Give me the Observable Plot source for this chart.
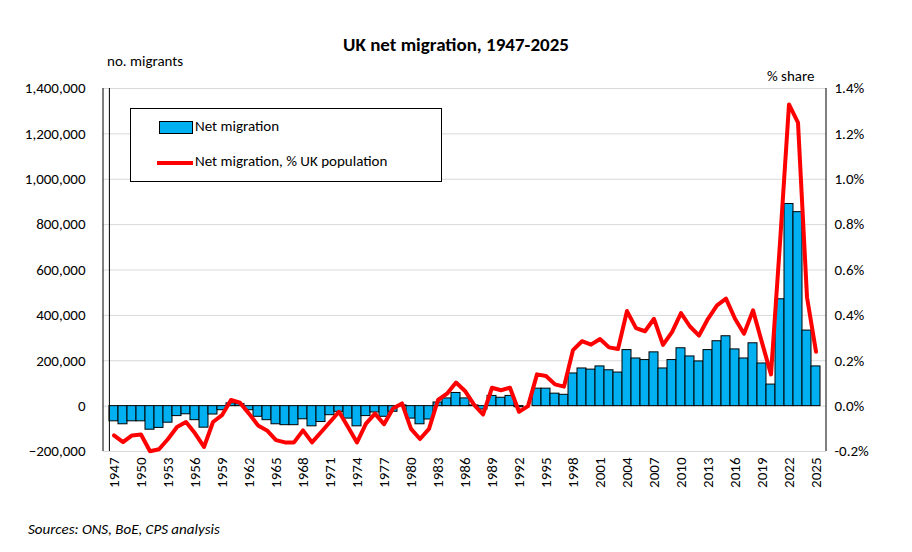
<!DOCTYPE html>
<html><head><meta charset="utf-8">
<script src="https://cdn.jsdelivr.net/npm/d3@7"></script>
<script src="https://cdn.jsdelivr.net/npm/@observablehq/plot@0.6"></script>
<style>
body{margin:0;font-family:Calibri,Carlito,"Liberation Sans",Arial,sans-serif;background:#fff}
#wrap{position:relative;width:912px;height:552px}
.t{position:absolute;white-space:nowrap}
</style></head><body>
<div id="wrap">
<div class="t" style="left:0;width:912px;text-align:center;top:33px;font-size:19px;font-weight:bold">UK net migration, 1947-2025</div>
<div class="t" style="left:107px;top:52px;font-size:15px">no. migrants</div>
<div class="t" style="left:767px;top:67px;font-size:15px">% share</div>
<div class="t" style="left:28px;top:520px;font-size:15px;font-style:italic">Sources: ONS, BoE, CPS analysis</div>
<div class="t" style="left:130px;top:108px;width:310px;height:72px;border:1px solid #000;background:#fff;font-size:15px">
  <div style="position:absolute;left:28px;top:12px;width:32px;height:11px;background:#00B0F0;border:1px solid #000"></div>
  <div style="position:absolute;left:64px;top:8px">Net migration</div>
  <div style="position:absolute;left:26px;top:52px;width:36px;height:4px;background:#f00"></div>
  <div style="position:absolute;left:64px;top:43px">Net migration, % UK population</div>
</div>
</div>
<script>
const years = d3.range(1947, 2026);
const netMigration = [-67,-80,-67,-67,-104,-96,-73,-44,-36,-62,-95,-37,-18,12,9,-18,-47,-62,-80,-84,-84,-58,-89,-70,-40,-25,-55,-89,-44,-28,-47,-25,3,-55,-80,-59,16,34,58,34,3,-15,45,37,45,-5,0,77,77,55,50,144,166,161,175,158,148,247,210,203,237,166,203,255,219,197,247,286,308,250,210,277,188,95,471,891,855,333,175].map(v=>v*1000);
const pctPop = [-0.129,-0.159,-0.129,-0.125,-0.199,-0.19,-0.145,-0.092,-0.07,-0.12,-0.18,-0.07,-0.04,0.027,0.015,-0.033,-0.085,-0.107,-0.15,-0.16,-0.16,-0.107,-0.16,-0.115,-0.07,-0.025,-0.092,-0.16,-0.077,-0.033,-0.08,-0.01,0.012,-0.1,-0.145,-0.1,0.027,0.055,0.104,0.067,0.007,-0.037,0.081,0.07,0.081,-0.025,0,0.14,0.133,0.096,0.086,0.247,0.286,0.271,0.296,0.259,0.252,0.419,0.344,0.33,0.385,0.27,0.326,0.41,0.351,0.311,0.385,0.444,0.474,0.385,0.319,0.422,0.28,0.14,0.72,1.33,1.25,0.48,0.24];
const data = years.map((y,i)=>({year:String(y), v:netMigration[i], p:pctPop[i]*1e6}));
const yTicks = d3.range(-200000, 1400001, 200000);
const chart = Plot.plot({
  width:912, height:552, marginTop:88, marginBottom:101, marginLeft:103, marginRight:86,
  style:{fontSize:"15px", fontFamily:"Calibri,Carlito,'Liberation Sans',Arial,sans-serif", color:"#000"},
  x:{type:"band", domain:years.map(String), padding:0, label:null},
  y:{domain:[-200000,1400000], label:null},
  marks:[
    Plot.gridY(yTicks,{stroke:"#d9d9d9", strokeOpacity:1}),
    Plot.barY(data,{x:"year", y:"v", fill:"#00B0F0", stroke:"#000", strokeWidth:1}),
    Plot.ruleY([-200000],{stroke:"#d9d9d9"}),
    Plot.line(data,{x:"year", y:"p", stroke:"#f00", strokeWidth:4}),
    Plot.axisY(yTicks,{anchor:"left", tickFormat:d=>d3.format(",")(d), tickSize:0, tickPadding:18, fontSize:15}),
    Plot.axisY(yTicks,{anchor:"right", tickFormat:d=>(d/1e6).toFixed(1)+"%", tickSize:0, tickPadding:8, fontSize:15}),
    Plot.axisX(years.filter((y,i)=>i%3===0).map(String),{tickRotate:-90, tickSize:0, tickPadding:6, fontSize:15}),
    Plot.ruleX([years[0]],{x:()=>"1947", dx:-4.6, stroke:"#000"}),
  ]
});
// vertical axis lines
document.getElementById("wrap").prepend(chart);
chart.style.position="absolute"; chart.style.left="0"; chart.style.top="0";
const svg = d3.select(chart);
svg.append("line").attr("x1",103).attr("x2",103).attr("y1",88).attr("y2",451).attr("stroke","#000");
svg.append("line").attr("x1",826).attr("x2",826).attr("y1",88).attr("y2",451).attr("stroke","#000");
</script>
</body></html>
